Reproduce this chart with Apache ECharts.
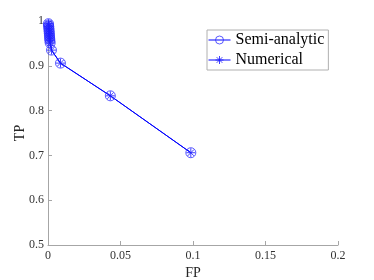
<!DOCTYPE html>
<html><head><meta charset="utf-8">
<script src="https://cdn.jsdelivr.net/npm/echarts@6/dist/echarts.min.js"></script>
<style>html,body{margin:0;padding:0;background:#fff}#c{width:374px;height:280px}</style>
</head><body><div id="c"></div>
<script>
const fpValues = [0.0985, 0.043, 0.0086, 0.0024, 0.0015, 0.0013, 0.0012, 0.0011, 0.001, 0.0009, 0.0008, 0.0007, 0.0006, 0.0005, 0.0004, 0.0003];
const tpSemi = [0.706, 0.833, 0.906, 0.935, 0.951, 0.956, 0.960, 0.964, 0.968, 0.972, 0.976, 0.980, 0.984, 0.988, 0.991, 0.994];
const tpNum = [0.706, 0.833, 0.906, 0.935, 0.951, 0.956, 0.960, 0.964, 0.968, 0.972, 0.976, 0.980, 0.984, 0.988, 0.991, 0.994];
const seriesNames = ['Semi-analytic', 'Numerical'];
const xTicks = [0, 0.05, 0.1, 0.15, 0.2];
const yTicks = [0.5, 0.6, 0.7, 0.8, 0.9, 1];

const font = 'Liberation Serif';
const blue = '#0000ff';
const star = 'path://M5 0L5 10M0 5L10 5M1.5 1.5L8.5 8.5M8.5 1.5L1.5 8.5';
const chart = echarts.init(document.getElementById('c'), null, {renderer: 'canvas'});
const axisCommon = {
  axisLine: {show: true, lineStyle: {color: '#a6a6a6', width: 1}},
  axisTick: {show: true, inside: true, length: 4, lineStyle: {color: '#a6a6a6'}},
  splitLine: {show: false},
  axisLabel: {color: '#333', fontFamily: font, fontSize: 12},
  nameTextStyle: {color: '#262626', fontFamily: font, fontSize: 14}
};
chart.setOption({
  animation: false,
  grid: {left: 48, right: 36, top: 21, bottom: 35, containLabel: false, outerBoundsMode: 'none'},
  legend: {
    data: seriesNames,
    orient: 'vertical', left: 207, top: 30,
    itemWidth: 22, itemHeight: 10, itemGap: 4,
    padding: [2, 4, 2, 1],
    borderColor: '#b0b0b0', borderWidth: 1, backgroundColor: '#fff',
    lineStyle: {width: 1},
    itemStyle: {borderWidth: 1},
    textStyle: {fontFamily: font, fontSize: 16, color: '#000'}
  },
  xAxis: Object.assign({}, axisCommon, {
    type: 'value', min: 0, max: 0.2, interval: 0.05,
    name: 'FP', nameLocation: 'middle', nameGap: 21, nameMoveOverlap: false,
    axisLabel: Object.assign({}, axisCommon.axisLabel, {margin: 5, formatter: v => xTicks.includes(+v.toFixed(2)) ? String(+v.toFixed(2)) : ''})
  }),
  yAxis: Object.assign({}, axisCommon, {
    type: 'value', min: 0.5, max: 1, interval: 0.1,
    name: 'TP', nameLocation: 'middle', nameGap: 21, nameMoveOverlap: false,
    axisLabel: Object.assign({}, axisCommon.axisLabel, {margin: 4, formatter: v => yTicks.includes(+v.toFixed(1)) ? String(+v.toFixed(1)) : ''})
  }),
  series: [
    {
      name: seriesNames[0], type: 'line',
      data: fpValues.map((x, i) => [x, tpSemi[i]]),
      symbol: 'circle', symbolSize: 10,
      lineStyle: {color: blue, width: 1},
      itemStyle: {color: 'rgba(0,0,0,0)', borderColor: 'rgba(50,50,255,0.8)', borderWidth: 1}
    },
    {
      name: seriesNames[1], type: 'line',
      data: fpValues.map((x, i) => [x, tpNum[i]]),
      symbol: star, symbolSize: 9,
      lineStyle: {color: blue, width: 1},
      itemStyle: {color: 'rgba(0,0,0,0)', borderColor: 'rgba(30,30,255,0.85)', borderWidth: 1}
    }
  ]
});
</script></body></html>
